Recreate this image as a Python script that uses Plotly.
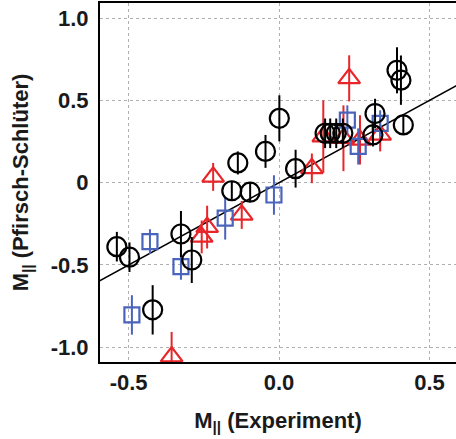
import plotly.graph_objects as go

# Black circles
circ_x = [-0.539, -0.497, -0.420, -0.326, -0.290, -0.157, -0.137, -0.096, -0.045, 0.001,
          0.055, 0.153, 0.170, 0.190, 0.212, 0.319, 0.312, 0.392, 0.405, 0.413]
circ_y = [-0.389, -0.453, -0.773, -0.312, -0.470, -0.049, 0.120, -0.058, 0.190, 0.391,
          0.085, 0.300, 0.300, 0.300, 0.300, 0.420, 0.290, 0.683, 0.623, 0.351]
circ_e = [0.09, 0.09, 0.15, 0.14, 0.14, 0.06, 0.07, 0.06, 0.10, 0.14,
          0.115, 0.09, 0.09, 0.09, 0.09, 0.09, 0.07, 0.14, 0.15, 0.06]

# Blue squares
sq_x = [-0.429, -0.489, -0.326, -0.179, -0.017, 0.227, 0.263, 0.336]
sq_y = [-0.358, -0.804, -0.510, -0.216, -0.075, 0.380, 0.220, 0.360]
sq_e = [0.075, 0.12, 0.08, 0.13, 0.12, 0.09, 0.11, 0.08]

# Red triangles
tri_x = [-0.357, -0.219, -0.239, -0.257, -0.124, 0.109, 0.147, 0.214, 0.269, 0.336, 0.233]
tri_y = [-1.057, 0.035, -0.270, -0.330, -0.196, 0.087, 0.280, 0.270, 0.260, 0.290, 0.634]
tri_e = [0.15, 0.085, 0.13, 0.10, 0.085, 0.09, 0.22, 0.20, 0.15, 0.10, 0.14]

# Fit line
fit_slope = 1.0
fit_intercept = 0.0
fit_x = [-0.6, 0.6]
fit_y = [fit_slope * v + fit_intercept for v in fit_x]

x_ticks = [-0.5, 0.0, 0.5]
x_ticktext = ["-0.5", "0.0", "0.5"]
y_ticks = [-1.0, -0.5, 0.0, 0.5, 1.0]
y_ticktext = ["-1.0", "-0.5", "0", "0.5", "1.0"]

RED = "#e8262a"
BLUE = "#4a64bc"

fig = go.Figure()

fig.add_trace(go.Scatter(x=fit_x, y=fit_y, mode="lines",
                         line=dict(color="black", width=1.6), showlegend=False))

fig.add_trace(go.Scatter(
    x=tri_x, y=tri_y, mode="markers",
    marker=dict(symbol="triangle-up-open", size=19, color=RED, line=dict(width=2.2, color=RED)),
    error_y=dict(type="data", array=tri_e, visible=True, color=RED, thickness=2, width=0),
    showlegend=False))

fig.add_trace(go.Scatter(
    x=sq_x, y=sq_y, mode="markers",
    marker=dict(symbol="square-open", size=15, color=BLUE, line=dict(width=2.2, color=BLUE)),
    error_y=dict(type="data", array=sq_e, visible=True, color=BLUE, thickness=2, width=0),
    showlegend=False))

fig.add_trace(go.Scatter(
    x=circ_x, y=circ_y, mode="markers",
    marker=dict(symbol="circle-open", size=19, color="black", line=dict(width=2.2, color="black")),
    error_y=dict(type="data", array=circ_e, visible=True, color="black", thickness=2, width=0),
    showlegend=False))

FONT = "Liberation Sans, Arial, sans-serif"
TXT = "#1a1a1a"
tf = dict(family=FONT, size=22, color=TXT, weight="bold")

fig.update_layout(
    width=456, height=439,
    margin=dict(l=100, r=0, t=3, b=77),
    plot_bgcolor="white", paper_bgcolor="white",
    font=dict(family=FONT, size=22, color=TXT),
    xaxis=dict(range=[-0.595, 0.588], tickvals=x_ticks, ticktext=x_ticktext,
               showgrid=True, gridcolor="#b0b0b0", griddash="dot", gridwidth=1.2,
               zeroline=False, showline=True, linecolor="black", linewidth=2, mirror=True,
               ticks="", tickfont=tf,
               title=dict(text="M<sub>||</sub> (Experiment)", font=tf, standoff=18)),
    yaxis=dict(range=[-1.09, 1.092], tickvals=y_ticks, ticktext=y_ticktext,
               showgrid=True, gridcolor="#b0b0b0", griddash="dot", gridwidth=1.2,
               zeroline=False, showline=True, linecolor="black", linewidth=2, mirror=False,
               ticks="", tickfont=tf, ticklabelstandoff=5,
               title=dict(text="M<sub>||</sub> (Pfirsch-Schlüter)", font=tf, standoff=16)),
)

fig.write_html("out.html", config={"displayModeBar": False},
               post_script="document.body.style.margin='0';document.body.style.overflow='hidden';")
